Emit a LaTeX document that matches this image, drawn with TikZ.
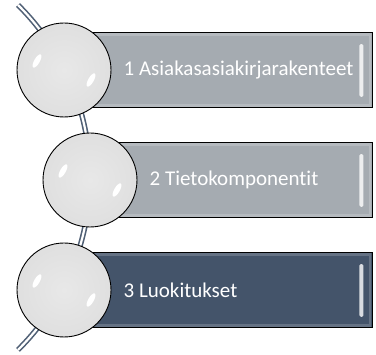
\documentclass[tikz,border=0pt]{standalone}
\usepackage{fontspec}
\setmainfont{Carlito}[Ligatures=NoCommon]
\usetikzlibrary{calc,positioning,shapes.geometric}
\definecolor{barGray}{HTML}{A5ABB1}
\definecolor{barSlate}{HTML}{44546A}
\definecolor{rodEdge}{HTML}{506075}
\definecolor{orbCore}{HTML}{E8E8E8}
\definecolor{orbMid}{HTML}{DDDDDD}
\definecolor{orbRim}{HTML}{B8B8B8}
\definecolor{orbEdge}{HTML}{7E7E7E}
\pgfdeclareradialshading{orb}{\pgfpoint{0bp}{0bp}}{color(0bp)=(orbCore); color(32bp)=(orbMid); color(44bp)=(orbRim); color(50bp)=(orbEdge)}
\tikzset{
  bar/.style={draw=black, line width=0.9pt, fill=#1, minimum width=308pt, minimum height=75pt, inner sep=0pt},
  ball/.style={circle, draw=black, line width=0.9pt, shading=orb, minimum size=94pt, inner sep=0pt},
  hilite/.style={ellipse, fill=white, minimum width=5.5pt, minimum height=15pt, inner sep=0pt},
  rod/.style={draw=rodEdge, double=white, double distance=2.2pt, line width=1.6pt},
  lab/.style={text=white, font=\fontsize{21}{25}\selectfont, inner sep=0pt}
}
\begin{document}
\begin{tikzpicture}[x=1pt, y=-1pt]
		\useasboundingbox (0,0) rectangle (376,355);
		
		% rod behind the balls
		\coordinate (rodtop) at (18,5);
		\coordinate (rodbot) at (18,350);
		\draw[rod] (rodtop) arc[start angle=-45.3, end angle=45.3, radius=242.6];
		
		% bars with balls
		\foreach \i/\cx/\cy/\col/\txt in {1/64/70/barGray/1 Asiakasasiakirjarakenteet, 2/90/180/barGray/2 Tietokomponentit, 3/64/290/barSlate/3 Luokitukset}{
			\node[bar=\col] (bar\i) at (218,\cy) {};
			\draw[white, opacity=0.18, line width=2.5pt] ($(bar\i.north west)+(2.5,2.5)$) rectangle ($(bar\i.south east)+(-2.5,-2.5)$);
			\fill[white, opacity=0.8, rounded corners=1.5pt] ($(bar\i.north east)+(-13,12)$) rectangle ($(bar\i.south east)+(-9,-11)$);
			\node[ball] (ball\i) at (\cx,\cy) {};
			\node[hilite, rotate=-30] at ($(ball\i.center)+(-27,-9)$) {};
			\node[hilite, rotate=-30] at ($(ball\i.center)+(27,10)$) {};
			\node[lab, right=12pt of ball\i] (lab\i) {\txt};
		}
	\end{tikzpicture}
\end{document}
